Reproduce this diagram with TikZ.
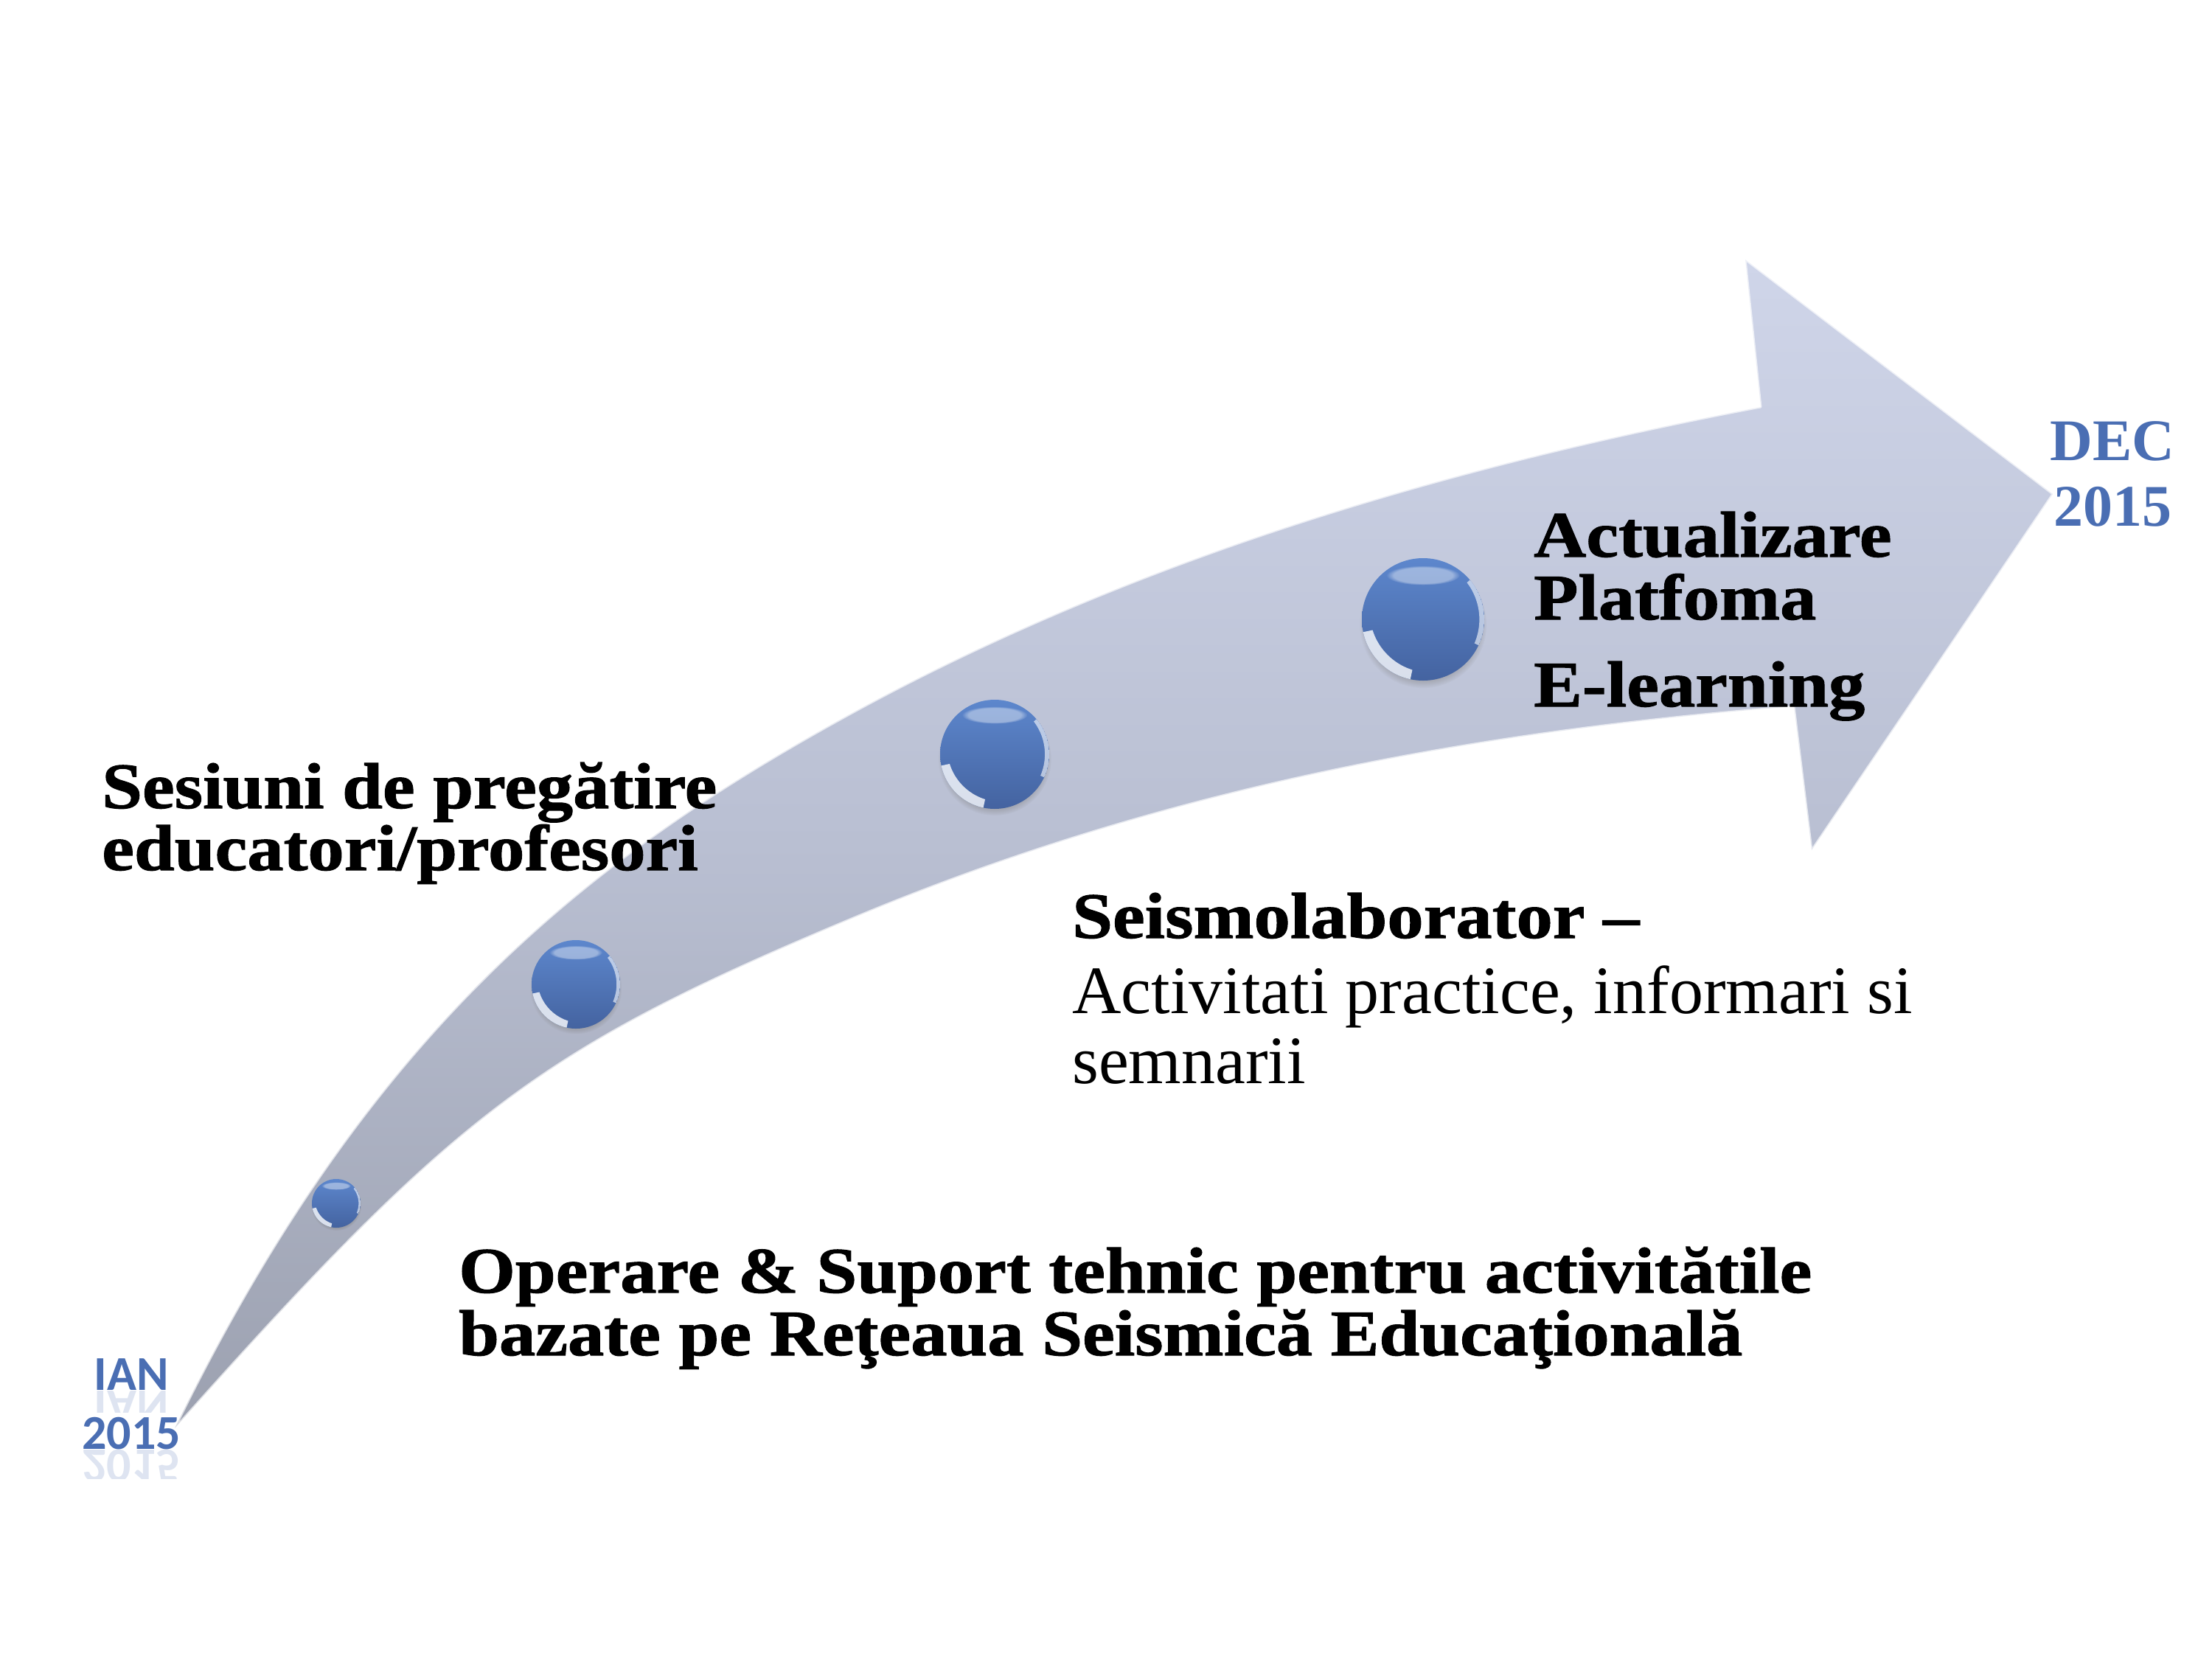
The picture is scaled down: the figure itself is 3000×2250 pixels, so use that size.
\documentclass[tikz,border=0pt]{standalone}
\usepackage{fontspec}
\setmainfont{Liberation Serif}
\newfontfamily\hdr[FakeStretch=1.12, FakeBold=1.2]{Liberation Serif}
\newfontfamily\carl{Carlito}
\usetikzlibrary{shadows,fadings}
\definecolor{arTop}{HTML}{CFD5E9}
\definecolor{arMid}{HTML}{B9BFD2}
\definecolor{arBot}{HTML}{9CA1B0}
\definecolor{ballTop}{HTML}{5D87CD}
\definecolor{ballBot}{HTML}{4463A0}
\definecolor{dateBlue}{HTML}{4A6EB3}
\tikzset{
  bt/.style={anchor=base west, inner sep=0pt, font=\hdr\bfseries\fontsize{88}{88}\selectfont},
  rt/.style={anchor=base west, inner sep=0pt, font=\fontsize{92}{92}\selectfont},
  datetxt/.style={anchor=base, inner sep=0pt, text=dateBlue, font=\bfseries\fontsize{80}{80}\selectfont},
  iantxt/.style={anchor=base, inner sep=0pt, text=dateBlue, font=\carl\bfseries\fontsize{66}{66}\selectfont},
  ball/.style={circle, inner sep=0pt, minimum size={2*#1*1pt},
    top color=ballTop, bottom color=ballBot,
    circular drop shadow={shadow xshift=0pt, shadow yshift={-0.08*#1*1pt}, shadow scale=1.04, opacity=0.5},
    path picture={
      \coordinate (c) at (path picture bounding box.center);
      % soft glare near the top
      \fill[white, opacity=0.4, path fading=circle with fuzzy edge 20 percent]
        ([shift={(0,-0.72*#1)}]c) ellipse[x radius=0.6*#1, y radius=0.16*#1];
      % bright crescent at lower left
      \begin{scope}
        \clip (c) -- ([shift={(168:1.5*#1)}]c) -- ([shift={(135:1.9*#1)}]c) -- ([shift={(102:1.5*#1)}]c) -- cycle;
        \fill[white, opacity=0.8, even odd rule]
          (c) circle[radius=#1]
          ([shift={(0.12*#1,-0.12*#1)}]c) circle[radius=0.99*#1];
      \end{scope}
      % rim light on the right
      \begin{scope}
        \clip (c) -- ([shift={(25:1.5*#1)}]c) -- ([shift={(-5:1.9*#1)}]c) -- ([shift={(-40:1.5*#1)}]c) -- cycle;
        \fill[white, opacity=0.6, even odd rule]
          (c) circle[radius=#1]
          ([shift={(-0.07*#1,0)}]c) circle[radius=0.99*#1];
      \end{scope}
    }},
}
\begin{document}
\begin{tikzpicture}[x=1pt,y=-1pt]
\path[use as bounding box, fill=white] (0,0) rectangle (3000,2250);

% curved arrow
\path[top color=arTop, bottom color=arBot, middle color=arMid,
      draw=white, draw opacity=0.65, line width=3pt, line join=round]
  (237,1937) .. controls (497,1404) and (790,1168) .. (1150,970)
  .. controls (1550,750) and (1988,628) .. (2388,552)
  -- (2367,352) -- (2784,670) -- (2457,1153) -- (2433,958)
  .. controls (2003,992) and (1580,1067) .. (1150,1248)
  .. controls (730,1424) and (617,1511) .. (237,1937)
  -- cycle;

% milestones
\node[ball=33] (s1) at (456,1632) {};
\node[ball=60] (s2) at (781,1335) {};
\node[ball=74] (s3) at (1349,1023) {};
\node[ball=83] (s4) at (1930,840) {};

% labels
\node[bt] (ses1) at (138,1096) {Sesiuni de pregătire};
\node[bt] (ses2) at (138,1180) {educatori/profesori};

\node[bt] (act1) at (2080,755) {Actualizare};
\node[bt] (act2) at (2080,840) {Platfoma};
\node[bt] (act3) at (2080,958) {E-learning};

\node[bt] (sei1) at (1454,1272) {Seismolaborator –};
\node[rt] (sei2) at (1454,1374) {Activitati practice, informari si};
\node[rt] (sei3) at (1454,1469) {semnarii};

\node[bt] (op1) at (622,1753) {Operare \& Suport tehnic pentru activitătile};
\node[bt] (op2) at (622,1838) {bazate pe Reţeaua Seismică Educaţională};

% dates
\node[datetxt] (dec1) at (2865,624) {DEC};
\node[datetxt] (dec2) at (2865,713) {2015};

\begin{scope}
  \clip (90,1886) rectangle (260,1915);
  \node[iantxt, yscale=-1, opacity=0.18] (ianr) at (178,1886) {IAN};
\end{scope}
\begin{scope}
  \clip (90,1966) rectangle (260,2005);
  \node[iantxt, yscale=-1, opacity=0.18] (yr) at (178,1966) {2015};
\end{scope}
\node[iantxt] (ian1) at (178,1885) {IAN};
\node[iantxt] (ian2) at (178,1965) {2015};
\end{tikzpicture}
\end{document}
